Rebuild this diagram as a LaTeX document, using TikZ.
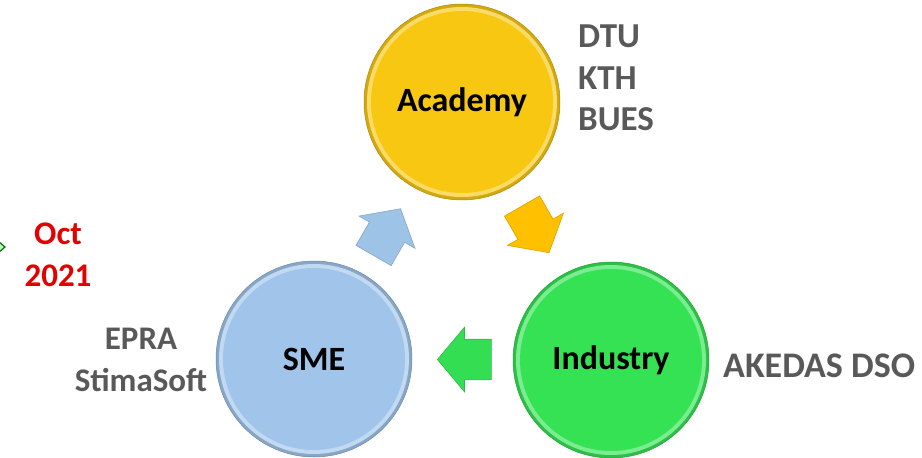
\documentclass[tikz,border=0pt]{standalone}
\usepackage{fontspec}
\setmainfont{Carlito}
\usetikzlibrary{shapes.arrows,calc}

\definecolor{acadyellow}{RGB}{247,199,18}
\definecolor{smeblue}{RGB}{160,196,234}
\definecolor{indgreen}{RGB}{52,226,84}
\definecolor{arrowyellow}{RGB}{255,192,0}
\definecolor{arrowblue}{RGB}{157,195,230}
\definecolor{arrowgreen}{RGB}{51,222,82}
\definecolor{labelgray}{RGB}{89,89,89}
\definecolor{datered}{RGB}{228,0,0}

\tikzset{
  disc/.style={circle, minimum size=196pt, inner sep=0pt, fill=#1!85!black,
    draw=#1!70!black, line width=.5pt,
    font=\fontsize{34}{40}\selectfont\bfseries,
    path picture={
      \fill[#1!65!white] (path picture bounding box.center) circle[radius=95pt];
      \fill[#1] (path picture bounding box.center) circle[radius=91pt];
    }},
  flow/.style={single arrow, fill=#1, draw=#1!85!black, line width=.6pt,
    minimum height=54pt, inner xsep=0pt, inner ysep=20pt,
    single arrow head extend=12pt, single arrow tip angle=100},
  side/.style={text=labelgray, font=\fontsize{33}{41.5}\selectfont\bfseries,
    inner sep=0pt},
}

\begin{document}
\begin{tikzpicture}[x=1pt,y=-1pt]
\useasboundingbox (0,0) rectangle (922,458);

% the three partners
\node[disc=acadyellow] (academy) at (462,102) {Academy};
\node[disc=smeblue] (sme) at (314,359) {SME};
\node[disc=indgreen] (industry) at (611,360) {Industry};

% flow between them
\node[flow=arrowblue, rotate=60] (smeToAcad) at ($(sme)!.465!(academy)$) {};
\node[flow=arrowyellow, rotate=-60] (acadToInd) at ($(academy)!.465!(industry)$) {};
\node[flow=arrowgreen, rotate=180] (indToSme) at ($(industry)!.465!(sme)$) {};

% members
\node[side, font=\fontsize{35}{41.5}\selectfont\bfseries, anchor=north west,
  align=left] (univs) at (578,25) {DTU\\KTH\\BUES};
\node[side, anchor=north, align=center] (smes) at (141,328) {EPRA\\StimaSoft};
\node[side, font=\fontsize{36}{41.5}\selectfont\bfseries, anchor=base west]
  (dso) at (723,377) {AKEDAS DSO};
\node[side, text=datered, anchor=north, align=center] (date) at (58,223) {Oct\\2021};

\draw[fill=green!25!white, draw=black!55!green, line width=1.2pt]
  (-2,241) -- (5,247) -- (-2,253);
\end{tikzpicture}
\end{document}
